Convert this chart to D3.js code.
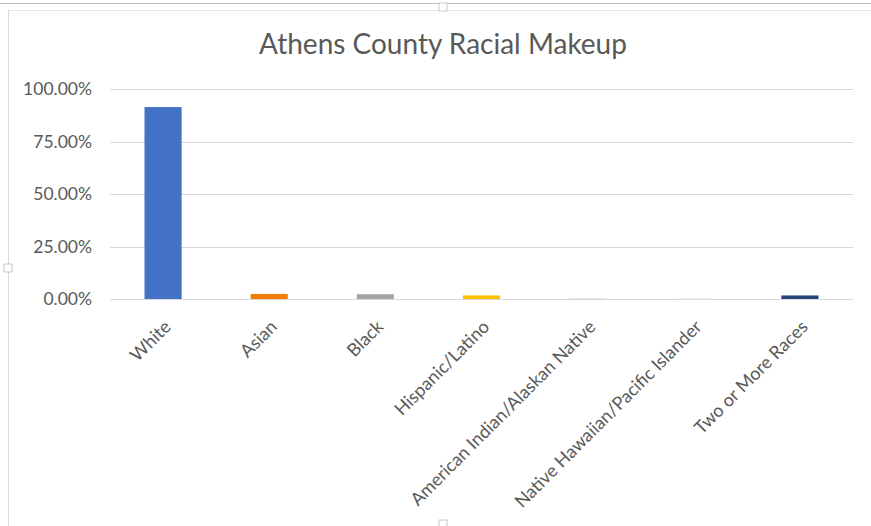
<!DOCTYPE html>
<html>
<head>
<meta charset="utf-8">
<script src="https://cdn.jsdelivr.net/npm/d3@7.9.0/dist/d3.min.js"></script>
<style>
  body { margin: 0; background: #fff; }
  svg { display: block; font-family: Lato, "Open Sans", sans-serif; }
</style>
</head>
<body>
<svg id="chart" width="871" height="526"></svg>
<script>
const categories = [
  "White", "Asian", "Black", "Hispanic/Latino",
  "American Indian/Alaskan Native", "Native Hawaiian/Pacific Islander", "Two or More Races"
];
const values = [0.914, 0.024, 0.023, 0.017, 0.001, 0.0005, 0.017];
const barColors = ["#4472C4", "#F57C00", "#A5A5A5", "#FFC000", "#5B9BD5", "#70AD47", "#264478"];
const yTicks = [0, 0.25, 0.5, 0.75, 1];

const svg = d3.select("#chart");
const margin = { left: 110, right: 18, top: 89, bottom: 227 };
const width = 871, height = 526;

// chart frame lines
svg.append("line").attr("x1", 0).attr("x2", width).attr("y1", 3.5).attr("y2", 3.5)
  .attr("stroke", "#bdbdbd");
svg.append("line").attr("x1", 9).attr("x2", width).attr("y1", 10.5).attr("y2", 10.5)
  .attr("stroke", "#e3e3e3");
svg.append("line").attr("x1", 8.5).attr("x2", 8.5).attr("y1", 10).attr("y2", height)
  .attr("stroke", "#d9d9d9");
[[443, 7], [8, 268], [443, 524]].forEach(([cx, cy]) => {
  svg.append("rect").attr("x", cx - 4).attr("y", cy - 4).attr("width", 8).attr("height", 8)
    .attr("fill", "#fff").attr("stroke", "#c8c8c8");
});

const x = d3.scaleBand()
  .domain(categories)
  .range([margin.left, width - margin.right])
  .paddingInner(0.65)
  .paddingOuter(0.325);

const y = d3.scaleLinear()
  .domain([0, 1])
  .range([height - margin.bottom, margin.top]);

svg.append("text")
  .attr("x", 443)
  .attr("y", 54)
  .attr("text-anchor", "middle")
  .attr("fill", "#595959")
  .attr("font-size", 28)
  .text("Athens County Racial Makeup");

// gridlines
svg.append("g")
  .selectAll("line")
  .data(yTicks)
  .join("line")
  .attr("x1", margin.left)
  .attr("x2", width - margin.right)
  .attr("y1", (d) => Math.round(y(d)) + 0.5)
  .attr("y2", (d) => Math.round(y(d)) + 0.5)
  .attr("stroke", "#d9d9d9")
  .attr("stroke-width", 1);

svg.append("g")
  .selectAll("text")
  .data(yTicks)
  .join("text")
  .attr("x", 92)
  .attr("y", (d) => y(d) + 6)
  .attr("text-anchor", "end")
  .attr("fill", "#595959")
  .attr("font-size", 17.5)
  .text((d) => d3.format(".2%")(d));

svg.append("g")
  .selectAll("rect")
  .data(values)
  .join("rect")
  .attr("x", (d, i) => x(categories[i]))
  .attr("width", x.bandwidth())
  .attr("y", (d) => y(d))
  .attr("height", (d) => y(0) - y(d))
  .attr("fill", (d, i) => barColors[i]);

svg.append("g")
  .selectAll("text")
  .data(categories)
  .join("text")
  .attr("transform", (d) => `translate(${x(d) + x.bandwidth() / 2 + 9},${y(0) + 29}) rotate(-45)`)
  .attr("text-anchor", "end")
  .attr("fill", "#595959")
  .attr("font-size", 18)
  .text((d) => d);
</script>
</body>
</html>
